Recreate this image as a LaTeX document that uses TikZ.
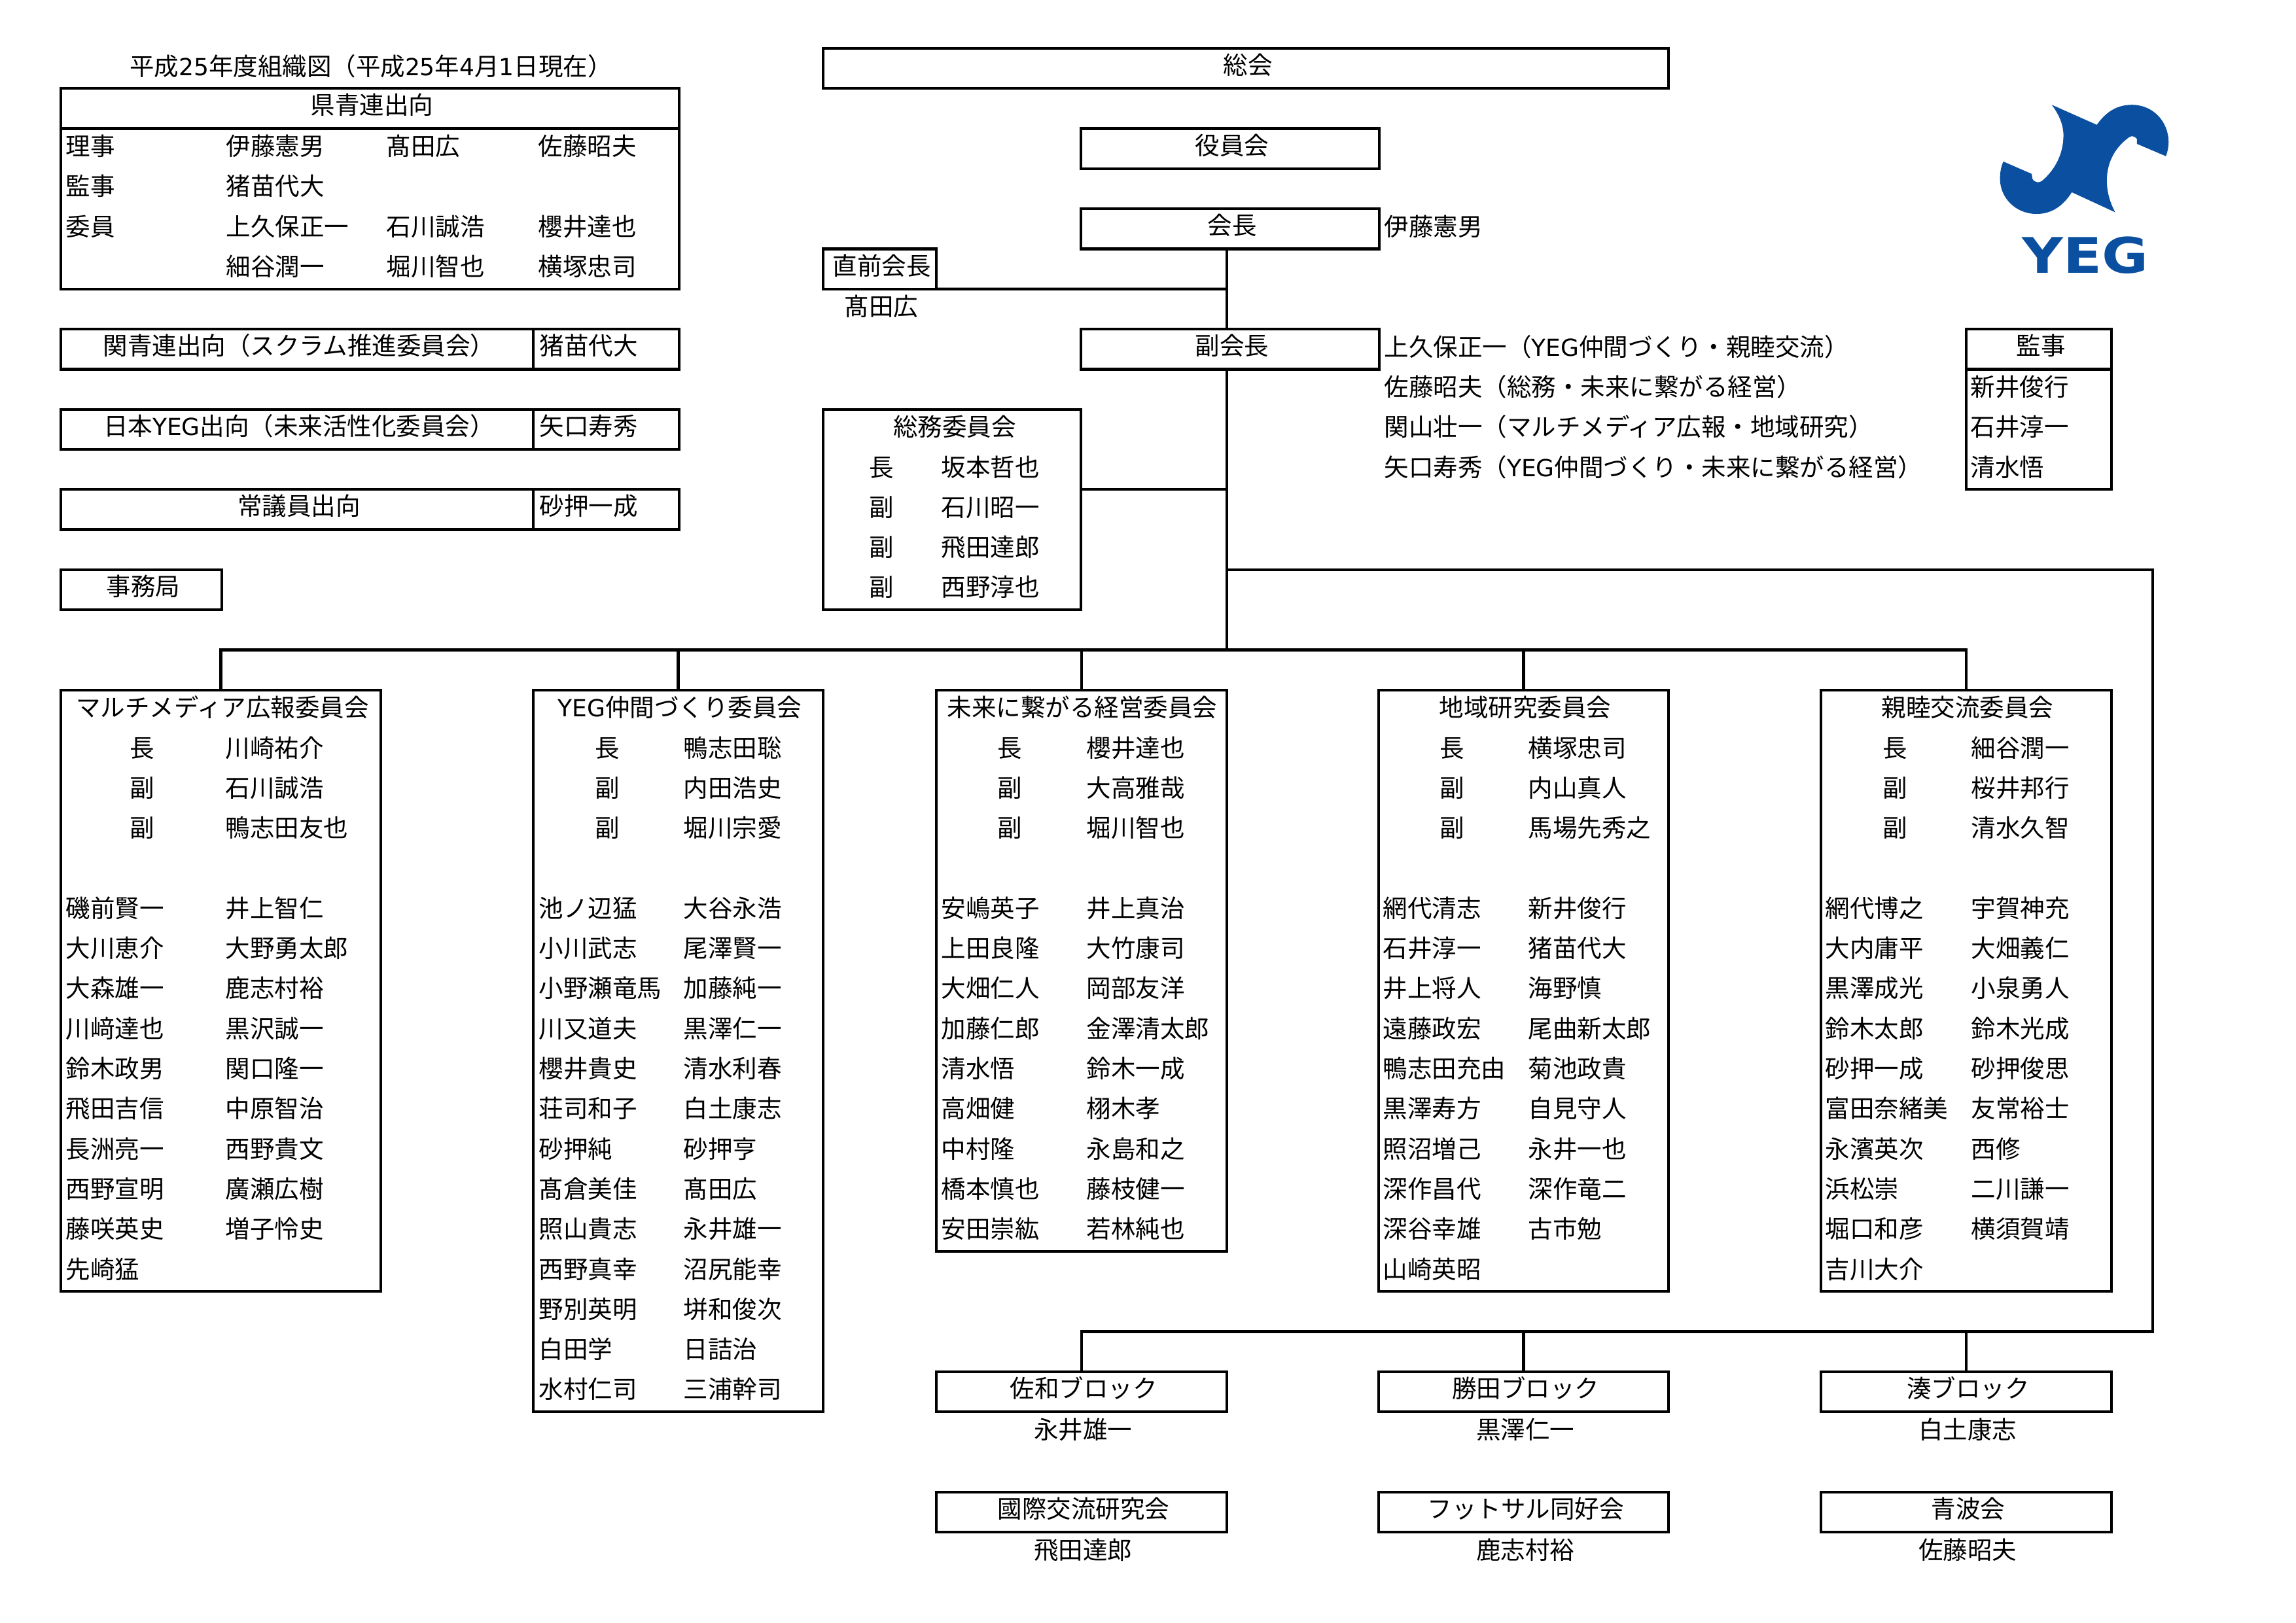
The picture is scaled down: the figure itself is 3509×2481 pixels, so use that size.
\documentclass[tikz,border=0pt]{standalone}
\usepackage{fontspec}
\setmainfont{Noto Sans CJK JP}
\newfontfamily\logofont{DejaVu Sans}
\newfontfamily\lat[Scale=0.96]{DejaVu Sans}
\definecolor{yegblue}{HTML}{0B50A0}
\newcounter{tn}
\tikzset{
  txt/.style={inner sep=0pt,outer sep=0pt,font=\fontsize{7.5}{9}\selectfont},
  linkline/.style={line width=0.86pt},
  boxn/.style={draw=black,line width=0.86pt,inner sep=0pt,outer sep=0pt,
    font=\fontsize{7.5}{9}\selectfont,text height=7.9pt,text depth=4.36pt,anchor=center}
}
% box: name, x1, row1, x2, row2, text
\newcommand\bx[6]{\node[boxn,minimum width={0.2pt*(#4-#2)},minimum height={0.2pt*61.3*(#5-#3)}] (#1) at ({(#2+#4)/2},{74+61.3*(#3+#5)/2}) {\hspace*{1.2pt}#6};}
% left-aligned text: x, row, text
\newcommand\tl[3]{\stepcounter{tn}\node[txt,anchor=base west] (t\arabic{tn}) at ({#1-1.5},{74+61.3*#2+41}) {#3};}
% centred text: x, row, text
\newcommand\tc[3]{\stepcounter{tn}\node[txt,anchor=base] (t\arabic{tn}) at ({#1+2},{74+61.3*#2+41}) {#3};}
\begin{document}
\begin{tikzpicture}[x=0.2pt,y=-0.2pt]
\useasboundingbox (0,0) rectangle (3509,2481);

% --- left column ---
\tc{565}{0}{平成{\lat 25}年度組織図（平成{\lat 25}年{\lat 4}月{\lat 1}日現在）}
\bx{ken}{93}{1}{1038}{2}{県青連出向}
\bx{kenb}{93}{2}{1038}{6}{}
\tl{102}{2}{理事}\tl{347}{2}{伊藤憲男}\tl{592}{2}{髙田広}\tl{824}{2}{佐藤昭夫}
\tl{102}{3}{監事}\tl{347}{3}{猪苗代大}
\tl{102}{4}{委員}\tl{347}{4}{上久保正一}\tl{592}{4}{石川誠浩}\tl{824}{4}{櫻井達也}
\tl{347}{5}{細谷潤一}\tl{592}{5}{堀川智也}\tl{824}{5}{横塚忠司}
\bx{kan}{93}{7}{815}{8}{関青連出向（スクラム推進委員会）}
\bx{kann}{815}{7}{1038}{8}{\hspace*{-12pt}猪苗代大}
\bx{nih}{93}{9}{815}{10}{日本{\lat YEG}出向（未来活性化委員会）}
\bx{nihn}{815}{9}{1038}{10}{\hspace*{-12pt}矢口寿秀}
\bx{jog}{93}{11}{815}{12}{常議員出向}
\bx{jogn}{815}{11}{1038}{12}{\hspace*{-12pt}砂押一成}
\bx{jim}{93}{13}{339}{14}{事務局}

% --- centre top ---
\bx{sokai}{1258}{0}{2550}{1}{総会}
\bx{yakuin}{1652}{2}{2108}{3}{役員会}
\bx{kaicho}{1652}{4}{2108}{5}{会長}
\tl{2117}{4}{伊藤憲男}
\bx{choku}{1258}{5}{1431}{6}{直前会長}
\tc{1345}{6}{髙田広}
\bx{fuku}{1652}{7}{2108}{8}{副会長}
\tl{2117}{7}{上久保正一（{\lat YEG}仲間づくり・親睦交流）}
\tl{2117}{8}{佐藤昭夫（総務・未来に繋がる経営）}
\tl{2117}{9}{関山壮一（マルチメディア広報・地域研究）}
\tl{2117}{10}{矢口寿秀（{\lat YEG}仲間づくり・未来に繋がる経営）}
\bx{soumu}{1258}{9}{1652}{14}{}
\tc{1457}{9}{総務委員会}
\tc{1345}{10}{長}\tl{1440}{10}{坂本哲也}
\tc{1345}{11}{副}\tl{1440}{11}{石川昭一}
\tc{1345}{12}{副}\tl{1440}{12}{飛田達郎}
\tc{1345}{13}{副}\tl{1440}{13}{西野淳也}

% --- auditors ---
\bx{kanji}{3005}{7}{3227}{8}{監事}
\bx{kanjib}{3005}{8}{3227}{11}{}
\tl{3013}{8}{新井俊行}
\tl{3013}{9}{石井淳一}
\tl{3013}{10}{清水悟}

% --- committees ---
\bx{c1}{93}{16}{582}{31}{}
\bx{c2}{815}{16}{1258}{34}{}
\bx{c3}{1431}{16}{1875}{30}{}
\bx{c4}{2107}{16}{2550}{31}{}
\bx{c5}{2783}{16}{3227}{31}{}
\tc{338}{16}{マルチメディア広報委員会}
\tc{1037}{16}{{\lat YEG}仲間づくり委員会}
\tc{1652}{16}{未来に繋がる経営委員会}
\tc{2329}{16}{地域研究委員会}
\tc{3005}{16}{親睦交流委員会}

\foreach \a/\b [count=\i from 17] in {長/川崎祐介,副/石川誠浩,副/鴨志田友也}{\tl{200}{\i}{\a}\tl{346}{\i}{\b}}
\foreach \a/\b [count=\i from 21] in {磯前賢一/井上智仁,大川恵介/大野勇太郎,大森雄一/鹿志村裕,川﨑達也/黒沢誠一,鈴木政男/関口隆一,飛田吉信/中原智治,長洲亮一/西野貴文,西野宣明/廣瀬広樹,藤咲英史/増子怜史}{\tl{102}{\i}{\a}\tl{346}{\i}{\b}}
\tl{102}{30}{先崎猛}

\foreach \a/\b [count=\i from 17] in {長/鴨志田聡,副/内田浩史,副/堀川宗愛}{\tl{911}{\i}{\a}\tl{1046}{\i}{\b}}
\foreach \a/\b [count=\i from 21] in {池ノ辺猛/大谷永浩,小川武志/尾澤賢一,小野瀬竜馬/加藤純一,川又道夫/黒澤仁一,櫻井貴史/清水利春,荘司和子/白土康志,砂押純/砂押亨,髙倉美佳/髙田広,照山貴志/永井雄一,西野真幸/沼尻能幸,野別英明/垪和俊次,白田学/日詰治,水村仁司/三浦幹司}{\tl{825}{\i}{\a}\tl{1046}{\i}{\b}}

\foreach \a/\b [count=\i from 17] in {長/櫻井達也,副/大高雅哉,副/堀川智也}{\tl{1526}{\i}{\a}\tl{1662}{\i}{\b}}
\foreach \a/\b [count=\i from 21] in {安嶋英子/井上真治,上田良隆/大竹康司,大畑仁人/岡部友洋,加藤仁郎/金澤清太郎,清水悟/鈴木一成,高畑健/栩木孝,中村隆/永島和之,橋本慎也/藤枝健一,安田崇紘/若林純也}{\tl{1440}{\i}{\a}\tl{1662}{\i}{\b}}

\foreach \a/\b [count=\i from 17] in {長/横塚忠司,副/内山真人,副/馬場先秀之}{\tl{2202}{\i}{\a}\tl{2337}{\i}{\b}}
\foreach \a/\b [count=\i from 21] in {網代清志/新井俊行,石井淳一/猪苗代大,井上将人/海野慎,遠藤政宏/尾曲新太郎,鴨志田充由/菊池政貴,黒澤寿方/自見守人,照沼増己/永井一也,深作昌代/深作竜二,深谷幸雄/古市勉}{\tl{2115}{\i}{\a}\tl{2337}{\i}{\b}}
\tl{2115}{30}{山崎英昭}

\foreach \a/\b [count=\i from 17] in {長/細谷潤一,副/桜井邦行,副/清水久智}{\tl{2879}{\i}{\a}\tl{3014}{\i}{\b}}
\foreach \a/\b [count=\i from 21] in {網代博之/宇賀神充,大内庸平/大畑義仁,黒澤成光/小泉勇人,鈴木太郎/鈴木光成,砂押一成/砂押俊思,富田奈緒美/友常裕士,永濱英次/西修,浜松崇/二川謙一,堀口和彦/横須賀靖}{\tl{2791}{\i}{\a}\tl{3014}{\i}{\b}}
\tl{2791}{30}{吉川大介}

% --- blocks ---
\bx{b1}{1431}{33}{1875}{34}{佐和ブロック}
\bx{b2}{2107}{33}{2550}{34}{勝田ブロック}
\bx{b3}{2783}{33}{3227}{34}{湊ブロック}
\tc{1653}{34}{永井雄一}
\tc{2329}{34}{黒澤仁一}
\tc{3005}{34}{白土康志}
\bx{g1}{1431}{36}{1875}{37}{國際交流研究会}
\bx{g2}{2107}{36}{2550}{37}{フットサル同好会}
\bx{g3}{2783}{36}{3227}{37}{青波会}
\tc{1653}{37}{飛田達郎}
\tc{2329}{37}{鹿志村裕}
\tc{3005}{37}{佐藤昭夫}

% --- connectors ---
\coordinate (tkai) at (1875,380.5);
\coordinate (tchoku) at (1875,441.8);
\coordinate (tfu) at (1875,503.1);
\coordinate (tfub) at (1875,564.4);
\coordinate (tsou) at (1875,748.3);
\coordinate (tright) at (1875,870.9);
\coordinate (tbus) at (1875,993.5);
\coordinate (rtop) at (3290,870.9);
\coordinate (rbot) at (3290,2035.6);
\draw[linkline] (tkai) -- (tfu);
\draw[linkline] (choku.south east) -- (tchoku);
\draw[linkline] (tfub) -- (tbus);
\draw[linkline] (soumu.east |- tsou) -- (tsou);
\draw[linkline] (c1.north) |- (tbus) -| (c5.north);
\draw[linkline] (c2.north) -- (c2.north |- tbus);
\draw[linkline] (c3.north) -- (c3.north |- tbus);
\draw[linkline] (c4.north) -- (c4.north |- tbus);
\draw[linkline] (tright) -- (rtop) -- (rbot) -| (b1.north);
\draw[linkline] (b2.north) -- (b2.north |- rbot);
\draw[linkline] (b3.north) -- (b3.north |- rbot);

% --- logo ---
\begin{scope}[shift={(2600,100)},x=0.10204pt,y=-0.10204pt]
\fill[yegblue] (1050,118) -- (1185,178)
  .. controls (1215,135) and (1250,118) .. (1290,118)
  .. controls (1355,118) and (1400,170) .. (1400,230)
  .. controls (1400,245) and (1397,258) .. (1392,272)
  -- (1305,235) -- (1305,220)
  .. controls (1298,212) and (1290,210) .. (1282,215)
  .. controls (1240,245) and (1215,290) .. (1215,345)
  .. controls (1215,380) and (1225,412) .. (1240,440)
  -- (1110,380)
  .. controls (1085,420) and (1050,445) .. (1005,445)
  .. controls (940,445) and (895,395) .. (895,340)
  .. controls (895,320) and (898,303) .. (905,288)
  -- (990,325) -- (992,340)
  .. controls (1000,352) and (1012,353) .. (1022,345)
  .. controls (1060,312) and (1085,265) .. (1085,210)
  .. controls (1085,175) and (1070,145) .. (1050,118)
  -- cycle;
\end{scope}
\node[inner sep=0pt,outer sep=0pt,text=yegblue,font=\fontsize{15}{16}\logofont\bfseries,xscale=1.155,anchor=base] (yeg) at (3187,417) {YEG};
\end{tikzpicture}
\end{document}
